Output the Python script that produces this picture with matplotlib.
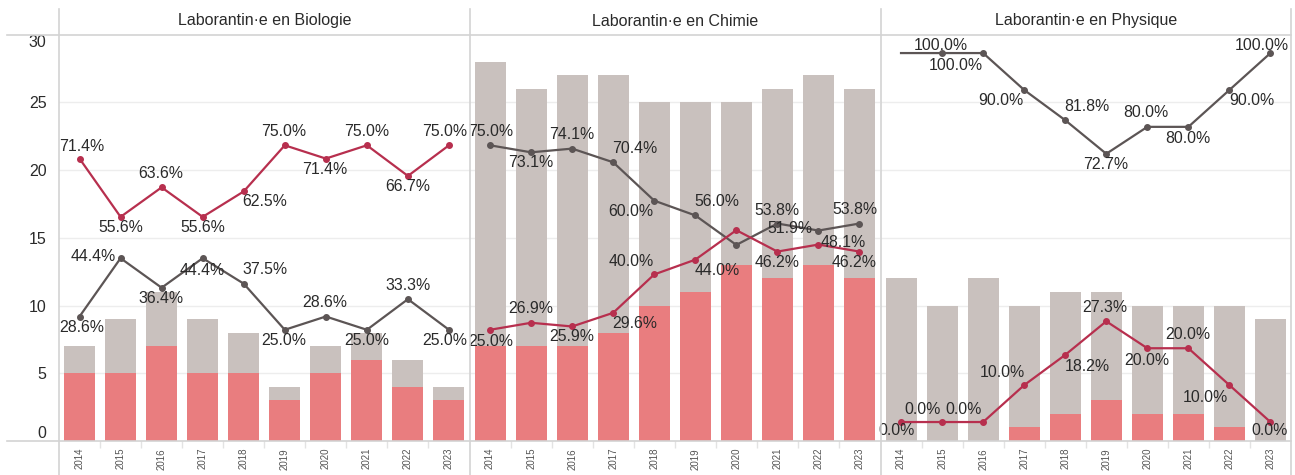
import matplotlib
matplotlib.use("Agg")
import matplotlib.pyplot as plt
from matplotlib.lines import Line2D
import numpy as np

plt.rcParams['font.family'] = ['Liberation Sans', 'DejaVu Sans']

# ---------------- data ----------------
years = ["2014", "2015", "2016", "2017", "2018", "2019", "2020", "2021", "2022", "2023"]
titles = ["Laborantin\u00b7e en Biologie", "Laborantin\u00b7e en Chimie", "Laborantin\u00b7e en Physique"]

bio_total = [7, 9, 11, 9, 8, 4, 7, 8, 6, 4]
bio_red = [5, 5, 7, 5, 5, 3, 5, 6, 4, 3]
bio_red_pct = [71.4, 55.6, 63.6, 55.6, 62.5, 75.0, 71.4, 75.0, 66.7, 75.0]
bio_grey_pct = [28.6, 44.4, 36.4, 44.4, 37.5, 25.0, 28.6, 25.0, 33.3, 25.0]

chi_total = [28, 26, 27, 27, 25, 25, 25, 26, 27, 26]
chi_red = [7, 7, 7, 8, 10, 11, 13, 12, 13, 12]
chi_red_pct = [25.0, 26.9, 25.9, 29.6, 40.0, 44.0, 52.0, 46.2, 48.1, 46.2]
chi_grey_pct = [75.0, 73.1, 74.1, 70.4, 60.0, 56.0, 48.0, 53.8, 51.9, 53.8]

phy_total = [12, 10, 12, 10, 11, 11, 10, 10, 10, 9]
phy_red = [0, 0, 0, 1, 2, 3, 2, 2, 1, 0]
phy_red_pct = [0.0, 0.0, 0.0, 10.0, 18.2, 27.3, 20.0, 20.0, 10.0, 0.0]
phy_grey_pct = [100.0, 100.0, 100.0, 90.0, 81.8, 72.7, 80.0, 80.0, 90.0, 100.0]

# ---------------- label placement (pixel offsets, None = hidden) ----------------
A, B = 14, -11
bio_red_off = [(2, 12), (0, B), (-1, A), (0, B), (21, -10), (-1, A), (-1, B), (0, A), (0, B), (-4, A)]
bio_grey_off = [(2, B), (-27, 2), (-1, B), (0, -12), (21, A), (-1, B), (-1, A), (0, B), (0, A), (-4, B)]
chi_grey_off = [(1, A), (0, -10), (0, A), (22, A), (-23, B), (22, A), None, (0, 13), (-28, 2), (-5, A)]
chi_red_off = [(1, -12), (0, A), (0, -10), (22, B), (-23, 13), (22, B), None, (0, B), (25, 2), (-5, B)]
phy_grey_off = [None, (-1, 8), (-27, -12), (-23, B), (22, A), (-1, B), (-1, A), (-1, -12), (22, B), (-9, 8)]
phy_red_off = [(-4, -8), (-20, 13), (-20, 13), (-22, 13), (22, -12), (-1, A), (-1, -12), (-1, A), (-24, -12), (-1, -8)]

panels = [
    (bio_total, bio_red, bio_red_pct, bio_grey_pct, bio_red_off, bio_grey_off, None),
    (chi_total, chi_red, chi_red_pct, chi_grey_pct, chi_red_off, chi_grey_off, None),
    (phy_total, phy_red, phy_red_pct, phy_grey_pct, phy_red_off, phy_grey_off, list(range(1, 10))),
]

# ---------------- style ----------------
W, H = 1295, 475
GREY_BAR = "#c9c1be"
RED_BAR = "#e97d7f"
RED_LINE = "#b72f4e"
GREY_LINE = "#5c5555"
GRID = "#ededed"
FRAME = "#d3d3d3"
TXT = "#2a2a2a"

fig = plt.figure(figsize=(W / 100, H / 100), dpi=100)
fig.patch.set_facecolor("white")

y0_px, y30_px = 441.0, 34.5
bottom = (H - y0_px) / H
height = (y0_px - y30_px) / H
lefts = [59.0, 469.5, 880.5]
pw = 410.5

x = np.arange(len(years))

for i, (total, red, rpct, gpct, roff, goff, gmark) in enumerate(panels):
    ax = fig.add_axes([lefts[i] / W, bottom, pw / W, height])
    ax.set_facecolor("none")
    ax.set_xlim(-0.5, 9.5)
    ax.set_ylim(0, 30)
    for s in ax.spines.values():
        s.set_visible(False)
    for g in [5, 10, 15, 20, 25]:
        ax.axhline(g, color=GRID, lw=1, zorder=0)
    ax.bar(x, total, width=0.756, color=GREY_BAR, zorder=2)
    ax.bar(x, red, width=0.756, color=RED_BAR, zorder=3)

    ax.set_xticks(x)
    ax.set_xticklabels(years, rotation=90, fontsize=7, color="#555555")
    ax.tick_params(axis='x', length=0, pad=5)
    ax.set_xticks(np.arange(0.5, 9.5, 1), minor=True)
    ax.tick_params(axis='x', which='minor', length=5, color="#e3e3e3", width=1)

    if i == 0:
        ax.set_yticks([0, 5, 10, 15, 20, 25, 30])
        ax.set_yticklabels(["0", "5", "10", "15", "20", "25", "30"], fontsize=11.5, color=TXT)
        ax.tick_params(axis='y', length=0, pad=9)
        lbls = ax.get_yticklabels()
        lbls[0].set_va('bottom')
        lbls[-1].set_va('top')
    else:
        ax.set_yticks([])

    ax2 = ax.twinx()
    ax2.set_facecolor("none")
    ax2.set_ylim(-5.14, 105.03)
    ax2.set_yticks([])
    for s in ax2.spines.values():
        s.set_visible(False)
    ax2.plot(x, gpct, color=GREY_LINE, lw=1.6, marker='o', ms=4,
             markevery=gmark, zorder=4, solid_joinstyle='miter')
    ax2.plot(x, rpct, color=RED_LINE, lw=1.6, marker='o', ms=4, zorder=5,
             solid_joinstyle='miter')
    for xi, v, off in zip(x, gpct, goff):
        if off is None:
            continue
        ax2.annotate(f"{v:.1f}%", (xi, v), xytext=off, textcoords='offset pixels',
                     ha='center', va='center', fontsize=11.4, color=TXT,
                     annotation_clip=False, zorder=10)
    for xi, v, off in zip(x, rpct, roff):
        if off is None:
            continue
        ax2.annotate(f"{v:.1f}%", (xi, v), xytext=off, textcoords='offset pixels',
                     ha='center', va='center', fontsize=11.4, color=TXT,
                     annotation_clip=False, zorder=10)

    # panel header title
    fig.text((lefts[i] + pw / 2) / W, (H - 21) / H, titles[i], ha='center', va='center',
             fontsize=11.5, color=TXT)

# frame lines (header border, baseline, separators)
def hline(ypx, x1, x2):
    fig.add_artist(Line2D([x1 / W, x2 / W], [(H - ypx) / H] * 2, color=FRAME, lw=1.2))

def vline(xpx, y1, y2):
    fig.add_artist(Line2D([xpx / W] * 2, [(H - y1) / H, (H - y2) / H], color=FRAME, lw=1.2))

hline(y30_px, 7, 1291)
hline(y0_px, 7, 1291)
for xv in [59, 469.5, 880.5, 1291]:
    vline(xv, 9, 475)

fig.savefig("out.png", dpi=100, facecolor="white")
